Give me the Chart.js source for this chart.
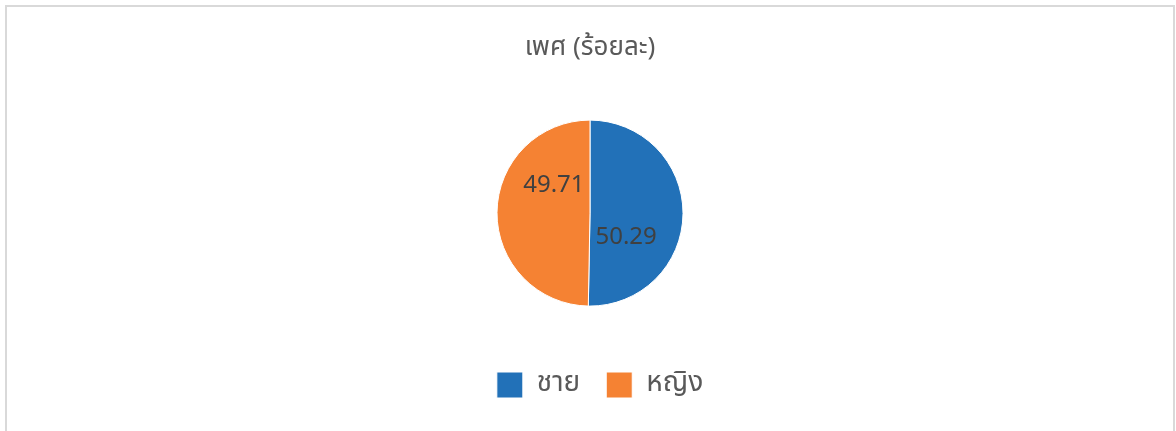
<!DOCTYPE html>
<html>
<head>
<meta charset="utf-8">
<script src="https://cdn.jsdelivr.net/npm/chart.js@4"></script>
<style>
  html, body { margin: 0; padding: 0; background: #fff; }
  .frame {
    position: absolute; left: 5px; top: 5px;
    width: 1166px; height: 440px;
    border: 2px solid #d9d9d9; background: #fff;
  }
  .frame canvas { display: block; }
</style>
</head>
<body>
<div class="frame"><canvas id="chart" width="1166" height="430"></canvas></div>
<script>
const TITLE = 'เพศ (ร้อยละ)';
const labels = ['ชาย', 'หญิง'];
const values = [50.29, 49.71];
const colors = ['#2271b8', '#f58233'];

const FONT = '"Noto Sans Thai", "Leelawadee UI", Tahoma, "Noto Sans", sans-serif';

// value labels placed inside each slice, a bit turned clockwise from the slice middle
const sliceLabels = {
    id: 'sliceLabels',
    afterDatasetsDraw(chart) {
        const ctx = chart.ctx;
        const meta = chart.getDatasetMeta(0);
        ctx.save();
        ctx.font = '24px ' + FONT;
        ctx.fillStyle = '#404040';
        ctx.textAlign = 'center';
        ctx.textBaseline = 'middle';
        meta.data.forEach((arc, i) => {
            const p = arc.getProps(['x', 'y', 'startAngle', 'endAngle', 'outerRadius'], true);
            const mid = (p.startAngle + p.endAngle) / 2 + 0.62;
            const r = p.outerRadius * 0.48;
            ctx.fillText(values[i].toFixed(2), p.x + Math.cos(mid) * r, p.y + Math.sin(mid) * r);
        });
        ctx.restore();
    }
};

// the legend in the original sits a little right of centre
const legendNudge = {
    id: 'legendNudge',
    afterLayout(chart) {
        chart.legend.left += 10;
        chart.legend.right += 10;
    }
};

new Chart(document.getElementById('chart'), {
    type: 'pie',
    data: {
        labels,
        datasets: [{
            data: values,
            backgroundColor: colors,
            borderColor: '#ffffff',
            borderWidth: 1
        }]
    },
    options: {
        responsive: false,
        animation: false,
        radius: 93,
        layout: { padding: { top: 0, bottom: 28 } },
        plugins: {
            title: {
                display: true,
                text: TITLE,
                color: '#595959',
                font: { family: FONT, size: 26, weight: 'normal' },
                padding: { top: 27, bottom: 16 }
            },
            legend: {
                position: 'bottom',
                labels: {
                    color: '#595959',
                    font: { family: FONT, size: 28 },
                    boxWidth: 26,
                    boxHeight: 26,
                    padding: 26
                }
            },
            tooltip: { enabled: false }
        }
    },
    plugins: [sliceLabels, legendNudge]
});
</script>
</body>
</html>
